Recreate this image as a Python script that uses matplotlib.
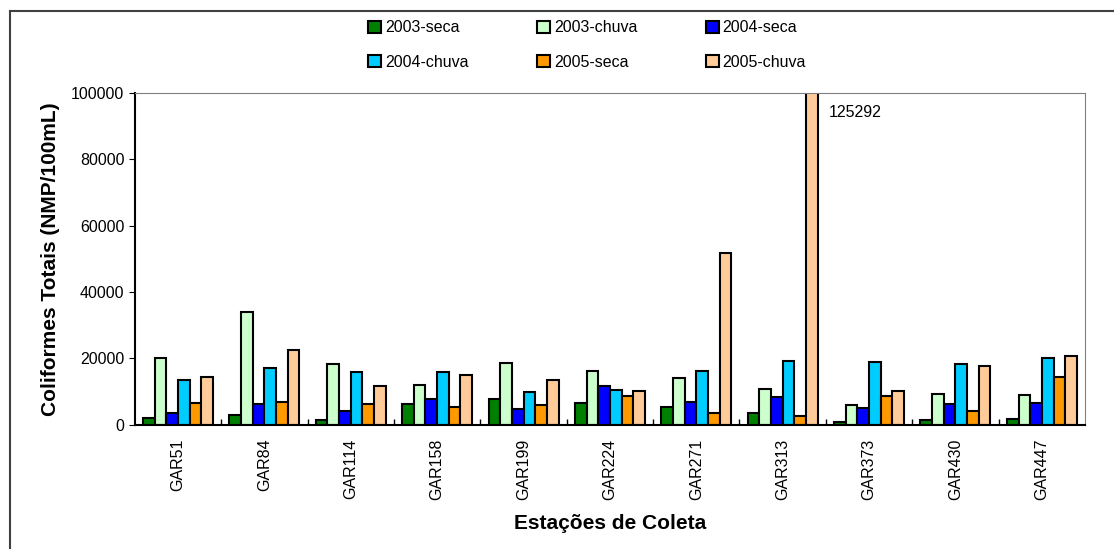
import numpy as np
import matplotlib
matplotlib.use("Agg")
import matplotlib.pyplot as plt
from matplotlib.lines import Line2D

plt.rc('font', family=['Liberation Sans', 'DejaVu Sans'])

# Data
stations = ["GAR51", "GAR84", "GAR114", "GAR158", "GAR199", "GAR224",
            "GAR271", "GAR313", "GAR373", "GAR430", "GAR447"]
series_names = ["2003-seca", "2003-chuva", "2004-seca",
                "2004-chuva", "2005-seca", "2005-chuva"]
seca_2003 = [2200, 2900, 1400, 6200, 7800, 6700, 5400, 3600, 1000, 1400, 1800]
chuva_2003 = [20000, 34100, 18300, 11900, 18700, 16100, 14000, 10700, 5900, 9400, 9000]
seca_2004 = [3600, 6400, 4100, 7700, 4900, 11800, 6800, 8300, 5200, 6300, 6500]
chuva_2004 = [13600, 17100, 15900, 15800, 10000, 10500, 16200, 19200, 19000, 18400, 20300]
seca_2005 = [6600, 6900, 6200, 5300, 5900, 8800, 3600, 2700, 8800, 4100, 14500]
chuva_2005 = [14300, 22600, 11800, 14900, 13400, 10100, 51800, 125292, 10100, 17600, 20700]

colors = ["#008000", "#CCFFCC", "#0000FF", "#00CCFF", "#FF9900", "#FFCC99"]
all_series = [seca_2003, chuva_2003, seca_2004, chuva_2004, seca_2005, chuva_2005]

FONT = 11.5
Y_MAX = 100000

fig = plt.figure(figsize=(11.14, 5.49), dpi=100)
ax = fig.add_axes([0.121, 0.226, 0.853, 0.605])

x = np.arange(len(stations))
width = 0.135
handles = []
for i, (vals, c, name) in enumerate(zip(all_series, colors, series_names)):
    offset = (i - 2.5) * width
    bars = ax.bar(x + offset, vals, width, color=c, edgecolor="black",
                  linewidth=1.5, label=name)
    handles.append(bars)

# label for the clipped bar
imax = int(np.argmax(chuva_2005))
ax.annotate(str(chuva_2005[imax]), xy=(imax + 3 * width, Y_MAX),
            xytext=(8, -9), textcoords="offset points",
            ha="left", va="top", fontsize=FONT)

ax.set_xlim(-0.5, len(stations) - 0.5)
ax.set_ylim(0, Y_MAX)
ax.set_yticks(np.arange(0, Y_MAX + 1, 20000))
ax.set_xticks(x)
ax.set_xticklabels(stations, rotation=90)
ax.set_xticks(np.arange(0.5, len(stations) - 0.5, 1), minor=True)
ax.tick_params(axis="x", which="major", length=0, pad=10, labelsize=FONT)
ax.tick_params(axis="x", which="minor", length=4, direction="in", width=1)
ax.tick_params(axis="y", length=4, labelsize=FONT)

for side in ["top", "right"]:
    ax.spines[side].set_color("#808080")
for side in ["left", "bottom"]:
    ax.spines[side].set_linewidth(1.5)

ax.set_ylabel("Coliformes Totais (NMP/100mL)", fontsize=15, fontweight="bold", labelpad=8)
ax.set_xlabel("Estações de Coleta", fontsize=15, fontweight="bold", labelpad=10)

# legend laid out row-wise like the original
order = [0, 3, 1, 4, 2, 5]
fig.legend([handles[i] for i in order], [series_names[i] for i in order],
           ncol=3, loc="center", bbox_to_anchor=(0.527, 0.918), frameon=False,
           fontsize=FONT, handlelength=0.8, handleheight=0.8, handletextpad=0.25,
           columnspacing=4.3, labelspacing=1.2)

# outer frame (only top and left edges are visible in the original)
fx, fy = 9.5 / 1114, 1 - 11 / 549
fig.add_artist(Line2D([fx, 1], [fy, fy], transform=fig.transFigure,
                      color="#404040", linewidth=1.5))
fig.add_artist(Line2D([fx, fx], [0, fy], transform=fig.transFigure,
                      color="#404040", linewidth=1.5))

fig.savefig("out.png", dpi=100)
